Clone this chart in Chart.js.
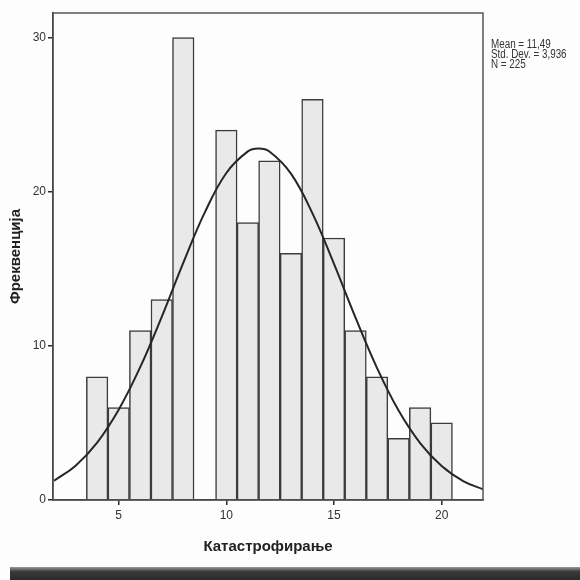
<!DOCTYPE html>
<html>
<head>
<meta charset="utf-8">
<script src="https://cdn.jsdelivr.net/npm/chart.js@4.4.1/dist/chart.umd.min.js"></script>
<style>
  html, body { margin: 0; padding: 0; background: #fdfdfd; }
  #wrap { position: relative; width: 580px; height: 580px; overflow: hidden; }
  #band {
    position: absolute; left: 10px; right: 0; top: 567px; height: 13px;
    background: linear-gradient(to bottom, #9a9a9a 0%, #3a3a3a 35%, #2a2a2a 100%);
  }
</style>
</head>
<body>
<div id="wrap">
  <canvas id="hist" width="580" height="580"></canvas>
  <div id="band"></div>
</div>
<script>
// histogram bins (centre of each bin) and counts
const binCenters = [4, 5, 6, 7, 8, 9, 10, 11, 12, 13, 14, 15, 16, 17, 18, 19, 20];
const counts = [8, 6, 11, 13, 30, 0, 24, 18, 22, 16, 26, 17, 11, 8, 4, 6, 5];

// normal curve
const curveX = [2, 3, 4, 5, 6, 7, 8, 9, 10, 11, 11.5, 12, 13, 14, 15, 16, 17, 18, 19, 20, 21, 22];
const curveY = [1.25, 2.23, 3.73, 5.86, 8.62, 11.89, 15.39, 18.66, 21.22, 22.62, 22.8, 22.61, 21.18,
  18.6, 15.32, 11.83, 8.56, 5.8, 3.69, 2.2, 1.23, 0.65];

const xTicks = [5, 10, 15, 20];
const yTicks = [0, 10, 20, 30];
const statsLines = ['Mean = 11,49', 'Std. Dev. = 3,936', 'N = 225'];

const xTitle = 'Катастрофирање';
const yTitle = 'Фреквенција';

const ink = '#2b2b2b';

// frame around the plot area plus the stats text on the right
const framePlugin = {
  id: 'frame',
  afterDraw(chart) {
    const { ctx, chartArea: a } = chart;
    ctx.save();
    ctx.strokeStyle = '#555';
    ctx.lineWidth = 1.5;
    ctx.strokeRect(a.left, a.top, a.right - a.left, a.bottom - a.top);

    // condensed look, like the SPSS stats box
    ctx.fillStyle = '#333';
    ctx.font = '12px Arial, "Liberation Sans", sans-serif';
    ctx.textBaseline = 'middle';
    ctx.translate(a.right + 8, 0);
    ctx.scale(0.82, 1);
    statsLines.forEach((t, i) => {
      ctx.fillText(t, 0, 45 + i * 10);
    });
    ctx.restore();
  }
};

const ctx = document.getElementById('hist').getContext('2d');
new Chart(ctx, {
  type: 'bar',
  data: {
    datasets: [
      {
        type: 'line',
        data: curveX.map((x, i) => ({ x: x, y: curveY[i] })),
        borderColor: '#262626',
        borderWidth: 2,
        pointRadius: 0,
        tension: 0.4,
        fill: false,
        order: 0
      },
      {
        type: 'bar',
        data: binCenters.map((x, i) => ({ x: x, y: counts[i] })),
        backgroundColor: '#e9e9e9',
        borderColor: '#3c3c3c',
        borderWidth: 1.5,
        borderSkipped: 'bottom',
        barPercentage: 1,
        categoryPercentage: 1,
        order: 1
      }
    ]
  },
  options: {
    responsive: false,
    animation: false,
    events: [],
    layout: {
      padding: { left: 0, right: 97, top: 13, bottom: 0 }
    },
    plugins: {
      legend: { display: false },
      tooltip: { enabled: false }
    },
    scales: {
      x: {
        type: 'linear',
        min: 1.95,
        max: 21.92,
        offset: false,
        afterBuildTicks: (scale) => {
          scale.ticks = xTicks.map(v => ({ value: v }));
        },
        afterFit: (scale) => { scale.height = 80; },
        grid: {
          display: true,
          offset: false,
          drawOnChartArea: false,
          drawTicks: true,
          tickLength: 5,
          color: ink,
          lineWidth: 1.5
        },
        border: { display: true, color: ink, width: 1.5 },
        ticks: {
          color: '#333',
          padding: 3,
          maxRotation: 0,
          font: { family: 'Arial, "Liberation Sans", sans-serif', size: 12 }
        },
        title: {
          display: true,
          text: xTitle,
          color: '#222',
          padding: { top: 4, bottom: 24 },
          font: { family: 'Arial, "Liberation Sans", sans-serif', size: 15, weight: 'bold' }
        }
      },
      y: {
        min: 0,
        max: 31.6,
        afterBuildTicks: (scale) => {
          scale.ticks = yTicks.map(v => ({ value: v }));
        },
        afterFit: (scale) => { scale.width = 53; },
        grid: {
          display: true,
          drawOnChartArea: false,
          drawTicks: true,
          tickLength: 5,
          color: ink,
          lineWidth: 1.5
        },
        border: { display: true, color: ink, width: 1.5 },
        ticks: {
          color: '#333',
          padding: 2,
          font: { family: 'Arial, "Liberation Sans", sans-serif', size: 12 }
        },
        title: {
          display: true,
          text: yTitle,
          color: '#222',
          padding: { top: 7, bottom: 4 },
          font: { family: 'Arial, "Liberation Sans", sans-serif', size: 15, weight: 'bold' }
        }
      }
    }
  },
  plugins: [framePlugin]
});
</script>
</body>
</html>
